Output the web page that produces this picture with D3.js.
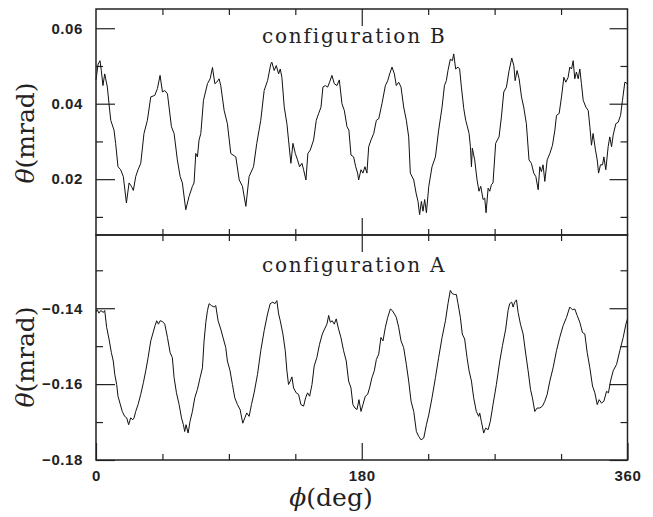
<!DOCTYPE html>
<html>
<head>
<meta charset="UTF-8">
<title>theta vs phi</title>
<script src="https://cdn.jsdelivr.net/npm/d3@7"></script>
<style>
  body { margin: 0; background: #fff; }
  .tick line { stroke: #222; stroke-width: 1.2px; }
  .tick text { font: bold 15px "Liberation Sans", Arial, sans-serif; fill: #222; letter-spacing: 0.6px; }
  .frame { fill: none; stroke: #222; stroke-width: 1.5px; }
  .curve { fill: none; stroke: #111; stroke-width: 1px; }
  .label { font-family: "DejaVu Serif", serif; fill: #222; }
</style>
</head>
<body>
<div id="chart"></div>
<script>
// readings: [phi (deg), theta (mrad)]
var configB = [
  [0,0.0463],[1.4,0.0505],[2.7,0.0514],[3.6,0.0488],[4.7,0.0448],[5.9,0.0479],[7.7,0.0444],[8.8,0.0400],
  [10.0,0.0356],[12.2,0.0330],[13.3,0.0295],[14.9,0.0233],[16.7,0.0225],[18.5,0.0207],[20.6,0.0137],[22.4,0.0190],
  [24.0,0.0181],[25.3,0.0170],[26.9,0.0207],[28.5,0.0225],[30.3,0.0242],[32.5,0.0321],[34.8,0.0356],[37.1,0.0418],
  [39.8,0.0422],[41.6,0.0440],[43.4,0.0475],[45.0,0.0431],[46.6,0.0435],[48.4,0.0426],[51.1,0.0339],[52.9,0.0321],
  [55.1,0.0251],[57.0,0.0207],[58.5,0.0190],[60.8,0.0119],[63.0,0.0154],[65.3,0.0181],[66.4,0.0190],[67.6,0.0268],
  [68.7,0.0259],[69.8,0.0304],[71.0,0.0321],[72.8,0.0409],[75.5,0.0453],[77.3,0.0466],[78.9,0.0496],[80.5,0.0453],
  [81.8,0.0457],[83.4,0.0466],[84.5,0.0448],[86.8,0.0382],[89.0,0.0347],[91.3,0.0268],[94.7,0.0259],[97.0,0.0198],
  [99.2,0.0181],[101.5,0.0128],[103.7,0.0207],[106.7,0.0233],[108.9,0.0295],[111.6,0.0356],[113.9,0.0435],[116.2,0.0461],
  [118.4,0.0505],[119.1,0.0510],[120.7,0.0488],[122.1,0.0501],[123.7,0.0479],[124.8,0.0492],[125.9,0.0470],[127.5,0.0391],
  [129.3,0.0347],[130.4,0.0304],[132.0,0.0242],[133.4,0.0295],[135.0,0.0268],[136.5,0.0251],[137.9,0.0233],[139.5,0.0242],
  [140.6,0.0225],[142.2,0.0198],[143.5,0.0268],[145.1,0.0277],[147.4,0.0304],[149.2,0.0356],[150.8,0.0374],[152.4,0.0391],
  [153.7,0.0444],[155.3,0.0448],[156.9,0.0444],[158.2,0.0457],[159.8,0.0475],[161.4,0.0453],[163.2,0.0448],[164.8,0.0463],
  [166.6,0.0400],[168.2,0.0382],[170.0,0.0339],[171.3,0.0330],[172.7,0.0264],[174.5,0.0259],[175.9,0.0233],[177.2,0.0216],
  [177.9,0.0198],[179.5,0.0225],[180.8,0.0216],[182.2,0.0233],[183.5,0.0216],[184.7,0.0286],[186.3,0.0304],[188.1,0.0321],
  [189.9,0.0356],[191.5,0.0360],[193.7,0.0400],[196.0,0.0448],[197.6,0.0461],[198.9,0.0479],[200.5,0.0497],[202.1,0.0479],
  [203.4,0.0448],[205.0,0.0457],[206.6,0.0444],[208.4,0.0391],[210.2,0.0356],[211.8,0.0312],[212.9,0.0216],[215.2,0.0198],
  [216.8,0.0163],[218.1,0.0141],[219.2,0.0106],[220.4,0.0141],[221.5,0.0115],[222.6,0.0146],[223.8,0.0111],[225.4,0.0181],
  [227.6,0.0233],[229.9,0.0259],[232.1,0.0330],[234.4,0.0391],[236.0,0.0448],[237.3,0.0461],[238.4,0.0488],[240.0,0.0518],
  [241.4,0.0514],[242.3,0.0532],[243.6,0.0492],[245.2,0.0497],[246.3,0.0492],[247.5,0.0444],[249.1,0.0387],[250.4,0.0356],
  [251.3,0.0343],[252.7,0.0321],[253.6,0.0286],[254.3,0.0233],[254.9,0.0282],[256.5,0.0251],[258.1,0.0198],[259.4,0.0168],
  [260.6,0.0181],[262.2,0.0146],[263.3,0.0150],[264.2,0.0111],[265.6,0.0176],[266.7,0.0168],[267.8,0.0185],[268.9,0.0190],
  [270.7,0.0295],[273.0,0.0312],[274.6,0.0365],[276.2,0.0431],[278.0,0.0444],[279.8,0.0488],[281.6,0.0521],[283.0,0.0501],
  [283.9,0.0461],[285.2,0.0488],[286.6,0.0466],[288.2,0.0418],[289.7,0.0391],[291.5,0.0347],[293.3,0.0251],[294.9,0.0242],
  [296.5,0.0216],[297.9,0.0207],[299.5,0.0172],[300.6,0.0233],[301.7,0.0220],[302.8,0.0238],[304.0,0.0194],[305.6,0.0251],
  [307.4,0.0268],[309.2,0.0290],[310.8,0.0330],[311.9,0.0369],[313.7,0.0374],[315.3,0.0418],[316.9,0.0470],[318.2,0.0457],
  [319.8,0.0470],[320.9,0.0497],[322.1,0.0492],[323.2,0.0514],[324.3,0.0466],[325.4,0.0484],[326.6,0.0466],[327.7,0.0492],
  [328.8,0.0453],[330.0,0.0409],[331.8,0.0391],[333.4,0.0382],[334.5,0.0339],[335.6,0.0290],[336.7,0.0321],[338.3,0.0277],
  [339.5,0.0251],[340.4,0.0216],[341.7,0.0238],[343.1,0.0238],[344.0,0.0259],[345.3,0.0225],[346.9,0.0286],[348.0,0.0312],
  [349.2,0.0286],[350.3,0.0317],[352.1,0.0347],[353.7,0.0351],[355.3,0.0369],[356.6,0.0409],[358.2,0.0457],[360,0.0453]
];

var configA = [
  [0,-0.1411],[0.9,-0.1404],[2.0,-0.1413],[3.2,-0.1406],[5.0,-0.1411],[5.9,-0.1406],[7.2,-0.1450],[8.8,-0.1481],
  [10.4,-0.1517],[11.7,-0.1539],[12.7,-0.1574],[14.0,-0.1601],[14.9,-0.1632],[17.8,-0.1672],[19.4,-0.1685],[20.8,-0.1689],
  [22.1,-0.1707],[23.5,-0.1689],[24.9,-0.1694],[25.8,-0.1689],[26.9,-0.1672],[28.5,-0.1654],[30.3,-0.1627],[32.1,-0.1596],
  [33.7,-0.1565],[35.3,-0.1530],[37.1,-0.1486],[38.4,-0.1468],[40.0,-0.1446],[41.1,-0.1433],[42.3,-0.1442],[43.4,-0.1433],
  [45.0,-0.1435],[46.6,-0.1442],[48.4,-0.1477],[50.2,-0.1517],[51.7,-0.1530],[52.9,-0.1583],[54.5,-0.1623],[56.3,-0.1654],
  [57.9,-0.1689],[59.2,-0.1707],[60.1,-0.1725],[61.0,-0.1707],[62.4,-0.1729],[63.7,-0.1698],[65.3,-0.1672],[66.9,-0.1636],
  [68.7,-0.1614],[70.5,-0.1583],[72.1,-0.1557],[73.2,-0.1486],[74.4,-0.1437],[75.5,-0.1406],[76.6,-0.1388],[78.2,-0.1393],
  [80.0,-0.1397],[81.1,-0.1393],[82.7,-0.1433],[84.5,-0.1455],[86.3,-0.1481],[87.9,-0.1504],[89.0,-0.1539],[90.8,-0.1565],
  [92.4,-0.1601],[94.0,-0.1636],[95.8,-0.1654],[97.6,-0.1667],[99.4,-0.1703],[100.8,-0.1689],[102.1,-0.1676],[103.7,-0.1685],
  [105.3,-0.1654],[107.1,-0.1623],[109.4,-0.1574],[111.6,-0.1512],[113.9,-0.1459],[116.2,-0.1415],[118.0,-0.1388],[119.8,-0.1384],
  [121.2,-0.1388],[122.5,-0.1380],[123.7,-0.1415],[124.8,-0.1433],[126.6,-0.1468],[128.2,-0.1512],[129.3,-0.1565],[130.4,-0.1601],
  [131.6,-0.1592],[132.7,-0.1581],[133.8,-0.1610],[135.6,-0.1623],[137.2,-0.1627],[138.8,-0.1654],[140.6,-0.1658],[142.0,-0.1636],
  [143.3,-0.1623],[144.7,-0.1632],[146.3,-0.1601],[147.8,-0.1552],[149.6,-0.1530],[151.4,-0.1495],[153.3,-0.1468],[154.8,-0.1455],
  [156.4,-0.1442],[157.6,-0.1419],[158.7,-0.1437],[160.0,-0.1433],[161.4,-0.1442],[162.7,-0.1428],[164.3,-0.1455],[165.9,-0.1477],
  [167.7,-0.1512],[169.5,-0.1539],[171.1,-0.1592],[172.7,-0.1610],[174.0,-0.1654],[175.4,-0.1663],[176.8,-0.1667],[178.1,-0.1641],
  [179.5,-0.1672],[180.8,-0.1654],[182.4,-0.1632],[184.0,-0.1627],[185.3,-0.1610],[186.9,-0.1583],[188.5,-0.1565],[189.9,-0.1535],
  [191.5,-0.1521],[193.0,-0.1477],[194.4,-0.1486],[196.0,-0.1450],[197.6,-0.1424],[199.4,-0.1402],[200.7,-0.1406],[202.1,-0.1415],
  [203.4,-0.1424],[205.0,-0.1450],[206.6,-0.1486],[208.4,-0.1504],[210.2,-0.1548],[211.8,-0.1592],[213.4,-0.1645],[215.2,-0.1672],
  [217.0,-0.1725],[218.6,-0.1738],[220.2,-0.1747],[222.0,-0.1742],[223.8,-0.1707],[225.4,-0.1681],[227.6,-0.1636],[229.9,-0.1583],
  [232.1,-0.1530],[234.4,-0.1477],[236.7,-0.1433],[238.4,-0.1388],[240.0,-0.1353],[241.4,-0.1362],[243.0,-0.1364],[244.1,-0.1364],
  [245.2,-0.1388],[246.8,-0.1424],[248.1,-0.1468],[249.7,-0.1481],[251.3,-0.1530],[252.7,-0.1565],[254.3,-0.1592],[255.8,-0.1636],
  [257.6,-0.1672],[259.2,-0.1685],[259.9,-0.1676],[261.0,-0.1698],[262.6,-0.1729],[263.9,-0.1716],[265.6,-0.1720],[267.1,-0.1698],
  [268.9,-0.1654],[271.2,-0.1601],[273.5,-0.1539],[275.3,-0.1499],[277.5,-0.1455],[279.1,-0.1406],[280.2,-0.1388],[281.6,-0.1384],
  [282.5,-0.1397],[283.6,-0.1384],[284.8,-0.1378],[285.9,-0.1411],[287.5,-0.1442],[289.3,-0.1468],[291.1,-0.1521],[292.7,-0.1565],
  [294.3,-0.1614],[295.6,-0.1636],[297.2,-0.1672],[298.8,-0.1663],[300.6,-0.1663],[302.4,-0.1658],[304.0,-0.1645],[305.6,-0.1627],
  [307.4,-0.1592],[309.6,-0.1557],[311.9,-0.1512],[314.1,-0.1477],[316.4,-0.1446],[318.7,-0.1424],[320.9,-0.1397],[322.7,-0.1404],
  [324.3,-0.1402],[325.9,-0.1419],[327.7,-0.1437],[329.5,-0.1464],[331.1,-0.1468],[332.7,-0.1517],[334.5,-0.1557],[336.3,-0.1605],
  [337.9,-0.1623],[339.5,-0.1654],[340.8,-0.1641],[342.4,-0.1650],[344.0,-0.1645],[345.8,-0.1619],[347.1,-0.1623],[348.5,-0.1592],
  [350.3,-0.1565],[352.6,-0.1548],[354.8,-0.1512],[357.1,-0.1477],[358.9,-0.1442],[360,-0.1428]
];

var xLabelTicks = [0, 180, 360];
var xMinorTicks = [45, 90, 135, 225, 270, 315];
var yMajorB = [0.02, 0.04, 0.06];
var yMinorB = [0.01, 0.03, 0.05];
var yMajorA = [-0.18, -0.16, -0.14];
var yMinorA = [-0.17, -0.15, -0.13];

var W = 653, H = 517;
var plotLeft = 96, plotRight = 627.5;
var plotTop = 9, plotMid = 235, plotBottom = 460;

var svg = d3.select("#chart").append("svg")
  .attr("width", W)
  .attr("height", H);

var x = d3.scaleLinear().domain([0, 360]).range([plotLeft, plotRight]);

var panels = [
  { data: configB, y: d3.scaleLinear().domain([0.0052, 0.0651]).range([plotMid, plotTop]),
    y0: plotTop, y1: plotMid, major: yMajorB, minor: yMinorB, fmt: d3.format(".2f"),
    name: "configuration B", nameY: 43, labelY: 133 },
  { data: configA, y: d3.scaleLinear().domain([-0.18, -0.1207]).range([plotBottom, plotMid]),
    y0: plotMid, y1: plotBottom, major: yMajorA, minor: yMinorA, fmt: d3.format(".2f"),
    name: "configuration A", nameY: 272, labelY: 357 }
];

function clean(g) {
  g.select(".domain").remove();
}

panels.forEach(function (p, i) {
  // y ticks, left (labelled) and right
  svg.append("g").attr("transform", "translate(" + plotLeft + ",0)")
    .call(d3.axisLeft(p.y).tickValues(p.major).tickSize(-19).tickPadding(13).tickFormat(p.fmt))
    .call(clean);
  svg.append("g").attr("transform", "translate(" + plotLeft + ",0)")
    .call(d3.axisLeft(p.y).tickValues(p.minor).tickSize(-7).tickFormat(""))
    .call(clean);
  svg.append("g").attr("transform", "translate(" + plotRight + ",0)")
    .call(d3.axisRight(p.y).tickValues(p.major).tickSize(-18).tickFormat(""))
    .call(clean);
  svg.append("g").attr("transform", "translate(" + plotRight + ",0)")
    .call(d3.axisRight(p.y).tickValues(p.minor).tickSize(-7).tickFormat(""))
    .call(clean);

  // x ticks on top and bottom edges of each panel
  svg.append("g").attr("transform", "translate(0," + p.y0 + ")")
    .call(d3.axisTop(x).tickValues(xMinorTicks).tickSize(-6).tickFormat(""))
    .call(clean);
  svg.append("g").attr("transform", "translate(0," + p.y0 + ")")
    .call(d3.axisTop(x).tickValues([180]).tickSize(-17).tickFormat(""))
    .call(clean);
  svg.append("g").attr("transform", "translate(0," + p.y1 + ")")
    .call(d3.axisBottom(x).tickValues(xMinorTicks).tickSize(-6).tickFormat(""))
    .call(clean);
  svg.append("g").attr("transform", "translate(0," + p.y1 + ")")
    .call(d3.axisBottom(x).tickValues(i == 1 ? xLabelTicks : [180]).tickSize(-17).tickPadding(10)
      .tickFormat(i == 1 ? d3.format("d") : ""))
    .call(clean);

  var line = d3.line()
    .x(function (d) { return x(d[0]); })
    .y(function (d) { return p.y(d[1]); });

  svg.append("path")
    .datum(p.data)
    .attr("class", "curve")
    .attr("d", line);

  svg.append("rect")
    .attr("class", "frame")
    .attr("x", plotLeft).attr("y", p.y0)
    .attr("width", plotRight - plotLeft).attr("height", p.y1 - p.y0);

  svg.append("text")
    .attr("class", "label")
    .attr("x", 262).attr("y", p.nameY)
    .style("font-size", "20px")
    .style("letter-spacing", "1.8px")
    .text(p.name);

  var yl = svg.append("text")
    .attr("class", "label")
    .attr("text-anchor", "middle")
    .attr("transform", "translate(34," + p.labelY + ") rotate(-90)")
    .style("font-size", "25px");
  yl.append("tspan").style("font-style", "italic").text("θ");
  yl.append("tspan").text("(mrad)");
});

var xl = svg.append("text")
  .attr("class", "label")
  .attr("text-anchor", "middle")
  .attr("x", 331).attr("y", 506)
  .style("font-size", "25px");
xl.append("tspan").style("font-style", "italic").text("ϕ");
xl.append("tspan").text("(deg)");
</script>
</body>
</html>
